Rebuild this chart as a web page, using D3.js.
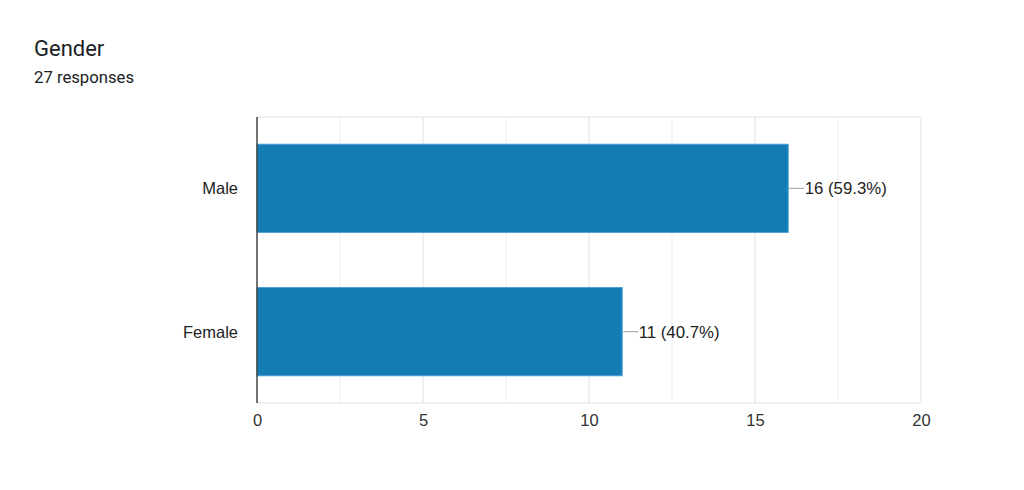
<!DOCTYPE html>
<html><head><meta charset="utf-8">
<script src="https://cdn.jsdelivr.net/npm/d3@7"></script>
<style>
html,body{margin:0;padding:0;background:#fff;}
svg{display:block;}
</style></head>
<body>
<script>
const categories = ["Male", "Female"];
const counts = [16, 11];
const percents = ["59.3%", "40.7%"];
const xTicks = [0, 5, 10, 15, 20];
const xGrid = [2.5, 5, 7.5, 10, 12.5, 15, 17.5, 20];
const title = "Gender";
const subtitle = "27 responses";

const W = 1024, H = 490;
const m = {left: 257, right: 1024 - 921, top: 117, bottom: 490 - 403};
const svg = d3.select("body").append("svg").attr("width", W).attr("height", H);
const FONT = "'Liberation Sans', Arial, Helvetica, sans-serif";

svg.append("text").attr("x", 34).attr("y", 56).text(title)
  .attr("font-family", "Roboto, 'Noto Sans', sans-serif").attr("font-size", 22).attr("fill", "#202124");
svg.append("text").attr("x", 34).attr("y", 83).text(subtitle)
  .attr("font-family", "Roboto, 'Noto Sans', sans-serif").attr("font-size", 16.7).attr("fill", "#202124");

const x = d3.scaleLinear().domain([0, 20]).range([m.left, W - m.right]);
const y = d3.scaleBand().domain(categories).range([m.top, H - m.bottom]).paddingInner(0.385).paddingOuter(0.19);

const g = svg.append("g");
// grid
g.selectAll("line.grid").data(xGrid).join("line")
  .attr("x1", d => x(d)).attr("x2", d => x(d))
  .attr("y1", m.top).attr("y2", H - m.bottom)
  .attr("stroke", d => d % 5 === 0 ? "#ebebeb" : "#f4f4f4").attr("stroke-width", 1.5);
// top and bottom border
g.append("line").attr("x1", m.left).attr("x2", W - m.right).attr("y1", m.top).attr("y2", m.top)
  .attr("stroke", "#ebebeb").attr("stroke-width", 1.5);
g.append("line").attr("x1", m.left).attr("x2", W - m.right).attr("y1", H - m.bottom).attr("y2", H - m.bottom)
  .attr("stroke", "#ebebeb").attr("stroke-width", 1.5);

// bars
const data = categories.map((c, i) => ({c, v: counts[i], p: percents[i]}));
g.selectAll("rect.bar").data(data).join("rect")
  .attr("x", x(0)).attr("y", d => y(d.c))
  .attr("width", d => x(d.v) - x(0)).attr("height", y.bandwidth())
  .attr("fill", "#137cb5").attr("stroke", "#4a9fd2").attr("stroke-width", 1);

// leader lines & labels
g.selectAll("line.lead").data(data).join("line")
  .attr("x1", d => x(d.v) + 1).attr("x2", d => x(d.v) + 16)
  .attr("y1", d => y(d.c) + y.bandwidth() / 2).attr("y2", d => y(d.c) + y.bandwidth() / 2)
  .attr("stroke", "#9e9e9e").attr("stroke-width", 1);
g.selectAll("text.val").data(data).join("text")
  .attr("x", d => x(d.v) + 16.5).attr("y", d => y(d.c) + y.bandwidth() / 2)
  .attr("dy", "0.36em").text(d => `${d.v} (${d.p})`)
  .attr("font-family", FONT).attr("font-size", 16.8).attr("fill", "#222");

// y axis
g.append("line").attr("x1", m.left).attr("x2", m.left).attr("y1", m.top).attr("y2", H - m.bottom)
  .attr("stroke", "#444").attr("stroke-width", 1.5);
g.selectAll("text.cat").data(categories).join("text")
  .attr("x", m.left - 19).attr("y", d => y(d) + y.bandwidth() / 2).attr("dy", "0.36em")
  .attr("text-anchor", "end").text(d => d)
  .attr("font-family", FONT).attr("font-size", 16.5).attr("fill", "#222");

// x axis labels
const xa = svg.append("g").attr("transform", `translate(0,${H - m.bottom})`)
  .call(d3.axisBottom(x).tickValues(xTicks).tickSize(0).tickPadding(11));
xa.select(".domain").remove();
xa.selectAll("text").attr("font-family", FONT).attr("font-size", 16.5).attr("fill", "#333");
</script>
</body></html>
